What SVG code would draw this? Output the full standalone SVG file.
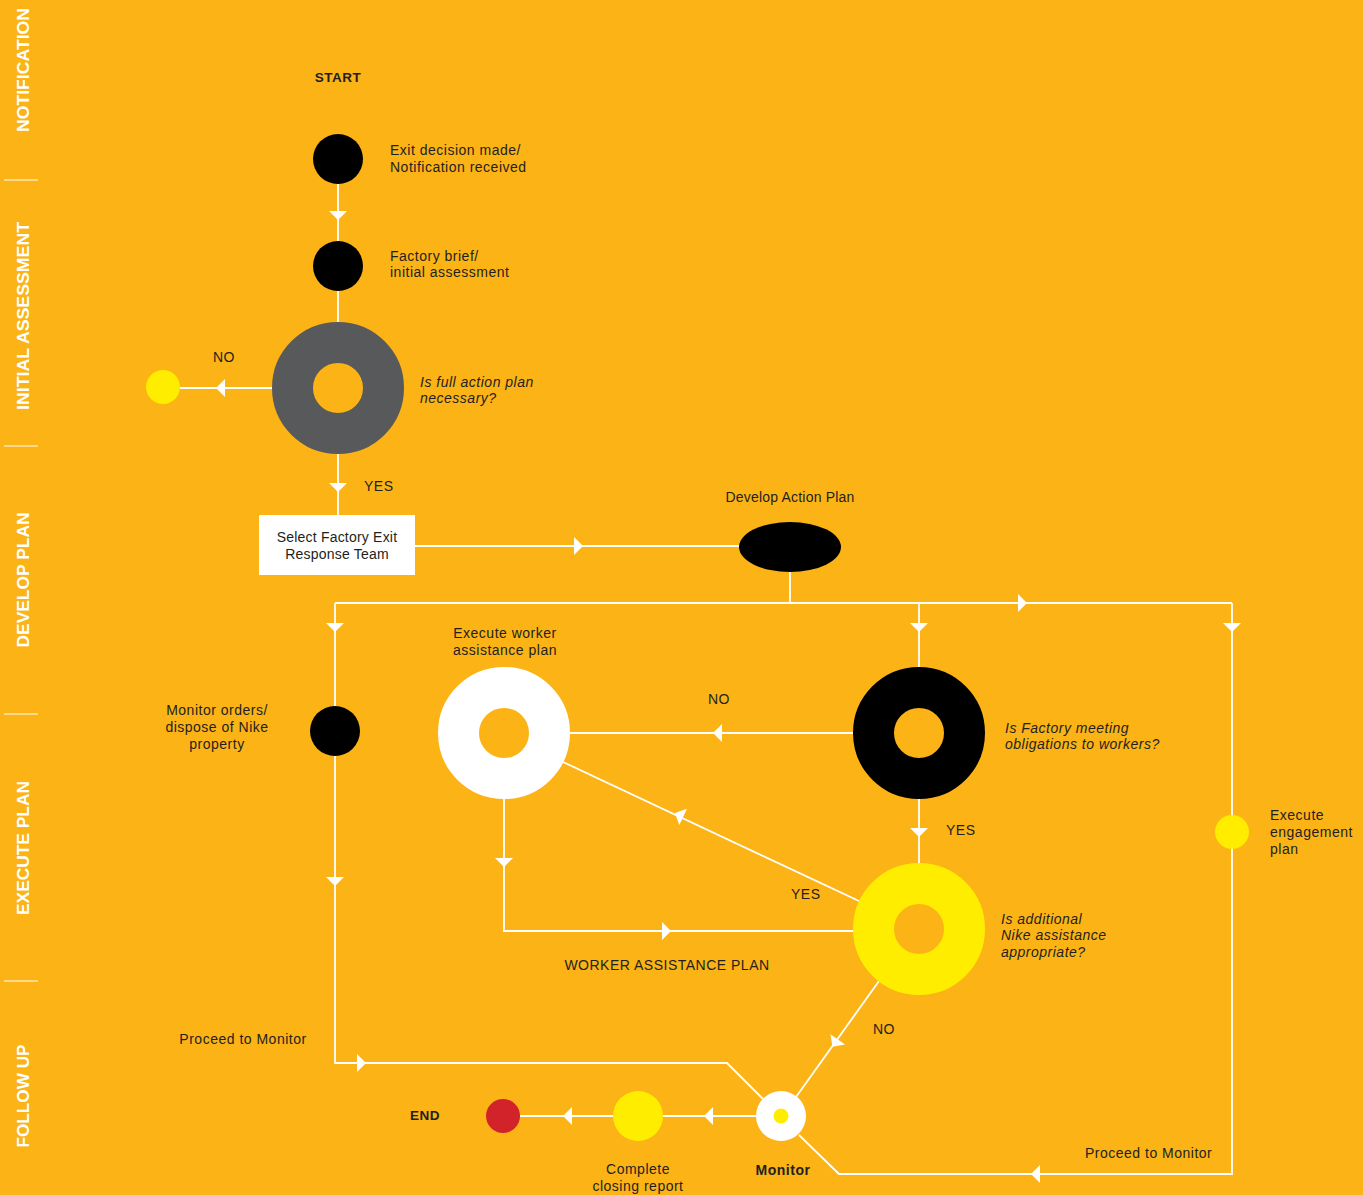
<svg xmlns="http://www.w3.org/2000/svg" xmlns:xlink="http://www.w3.org/1999/xlink" width="1363" height="1195" viewBox="0 0 1363 1195">
<style>
.t{font-family:"Liberation Sans",Arial,sans-serif;font-size:14px;letter-spacing:0.5px;fill:#231F20}
.i{font-style:italic}
.b{font-weight:bold;font-size:13.5px}
.m{text-anchor:middle}
.n{letter-spacing:0.2px}
.side{font-family:"Liberation Sans",Arial,sans-serif;font-size:16px;font-weight:bold;fill:#FFFFFF;text-anchor:middle}
.ln{fill:none;stroke:#FFFFFF;stroke-width:1.8}
.ah{fill:#FFFFFF}
.donut{fill:none;stroke-width:41}
</style>
<defs>
<path id="ah" d="M0,0 L-9,-9 L-9,9 Z"/>
</defs>
<rect x="0" y="0" width="1363" height="1195" fill="#FCB316"/>

<g id="phases">
<g stroke="#FFFFFF" stroke-width="1.2">
<line x1="4" y1="180" x2="38" y2="180"/>
<line x1="4" y1="446" x2="38" y2="446"/>
<line x1="4" y1="714" x2="38" y2="714"/>
<line x1="4" y1="981" x2="38" y2="981"/>
</g>
<text class="side" transform="translate(28.5,70) rotate(-90)" textLength="124" lengthAdjust="spacingAndGlyphs">NOTIFICATION</text>
<text class="side" transform="translate(28.5,316) rotate(-90)" textLength="188" lengthAdjust="spacingAndGlyphs">INITIAL ASSESSMENT</text>
<text class="side" transform="translate(28.5,580) rotate(-90)" textLength="135" lengthAdjust="spacingAndGlyphs">DEVELOP PLAN</text>
<text class="side" transform="translate(28.5,848) rotate(-90)" textLength="134" lengthAdjust="spacingAndGlyphs">EXECUTE PLAN</text>
<text class="side" transform="translate(28.5,1096) rotate(-90)" textLength="103" lengthAdjust="spacingAndGlyphs">FOLLOW UP</text>
</g>

<g id="connectors">
<path class="ln" d="M338,184 V241"/>
<path class="ln" d="M338,291 V322"/>
<path class="ln" d="M272,388 H180"/>
<path class="ln" d="M338,454 V515"/>
<path class="ln" d="M415,546 H739"/>
<path class="ln" d="M790,572 V603"/>
<path class="ln" d="M335,603 H1232"/>
<path class="ln" d="M335,603 V1063 H727 L763,1099"/>
<path class="ln" d="M919,603 V667"/>
<path class="ln" d="M1232,603 V1174 H839 L799,1135"/>
<path class="ln" d="M853,733 H569"/>
<path class="ln" d="M504,799 V931 H853"/>
<path class="ln" d="M919,799 V863"/>
<path class="ln" d="M859,901 L563,762"/>
<path class="ln" d="M879,981 L796,1097"/>
<path class="ln" d="M756,1116 H663"/>
<path class="ln" d="M613,1116 H520"/>
<g class="ah">
<use xlink:href="#ah" transform="translate(338,220) rotate(90)"/>
<use xlink:href="#ah" transform="translate(216,388) rotate(180)"/>
<use xlink:href="#ah" transform="translate(338,492) rotate(90)"/>
<use xlink:href="#ah" transform="translate(583,546)"/>
<use xlink:href="#ah" transform="translate(1027,603)"/>
<use xlink:href="#ah" transform="translate(335,632) rotate(90)"/>
<use xlink:href="#ah" transform="translate(919,632) rotate(90)"/>
<use xlink:href="#ah" transform="translate(1232,632) rotate(90)"/>
<use xlink:href="#ah" transform="translate(335,886) rotate(90)"/>
<use xlink:href="#ah" transform="translate(366,1063)"/>
<use xlink:href="#ah" transform="translate(1031,1174) rotate(180)"/>
<use xlink:href="#ah" transform="translate(713,733) rotate(180)"/>
<use xlink:href="#ah" transform="translate(504,867) rotate(90)"/>
<use xlink:href="#ah" transform="translate(671,931)"/>
<use xlink:href="#ah" transform="translate(919,837) rotate(90)"/>
<use xlink:href="#ah" transform="translate(675,813) rotate(205.2)"/>
<use xlink:href="#ah" transform="translate(832.5,1046.7) rotate(125.6)"/>
<use xlink:href="#ah" transform="translate(704,1116) rotate(180)"/>
<use xlink:href="#ah" transform="translate(563,1116) rotate(180)"/>
</g>
</g>

<g id="start">
<text class="t b m" x="338" y="82">START</text>
</g>
<g id="exit-decision">
<circle cx="338" cy="159" r="25" fill="#000000"/>
<text class="t" x="390" y="155">Exit decision made/</text>
<text class="t" x="390" y="172">Notification received</text>
</g>
<g id="factory-brief">
<circle cx="338" cy="266" r="25" fill="#000000"/>
<text class="t" x="390" y="261">Factory brief/</text>
<text class="t" x="390" y="277">initial assessment</text>
</g>
<g id="full-plan-decision">
<circle class="donut" cx="338" cy="388" r="45.5" stroke="#58595B"/>
<text class="t i" x="420" y="387">Is full action plan</text>
<text class="t i" x="420" y="403">necessary?</text>
<text class="t" x="213" y="362">NO</text>
<text class="t" x="364" y="491">YES</text>
</g>
<g id="no-plan-end">
<circle cx="163" cy="387" r="17" fill="#FFED00"/>
</g>
<g id="response-team">
<rect x="259" y="515" width="156" height="60" fill="#FFFFFF"/>
<text class="t m n" x="337" y="542">Select Factory Exit</text>
<text class="t m n" x="337" y="559">Response Team</text>
</g>
<g id="develop-action-plan">
<ellipse cx="790" cy="547" rx="51" ry="25" fill="#000000"/>
<text class="t m n" x="790" y="502">Develop Action Plan</text>
</g>
<g id="monitor-orders">
<circle cx="335" cy="731" r="25" fill="#000000"/>
<text class="t m" x="217" y="715">Monitor orders/</text>
<text class="t m" x="217" y="732">dispose of Nike</text>
<text class="t m" x="217" y="749">property</text>
</g>
<g id="worker-assistance">
<circle class="donut" cx="504" cy="733" r="45.5" stroke="#FFFFFF"/>
<text class="t m" x="505" y="638">Execute worker</text>
<text class="t m" x="505" y="655">assistance plan</text>
</g>
<g id="factory-obligations">
<circle class="donut" cx="919" cy="733" r="45.5" stroke="#000000"/>
<text class="t i" x="1005" y="733">Is Factory meeting</text>
<text class="t i" x="1005" y="749">obligations to workers?</text>
<text class="t m" x="719" y="704">NO</text>
<text class="t" x="946" y="835">YES</text>
</g>
<g id="additional-assistance">
<circle class="donut" cx="919" cy="929" r="45.5" stroke="#FFED00"/>
<text class="t i" x="1001" y="924">Is additional</text>
<text class="t i" x="1001" y="940">Nike assistance</text>
<text class="t i" x="1001" y="957">appropriate?</text>
<text class="t" x="791" y="899">YES</text>
<text class="t" x="873" y="1034">NO</text>
<text class="t m" x="667" y="970">WORKER ASSISTANCE PLAN</text>
</g>
<g id="engagement-plan">
<circle cx="1232" cy="832" r="17" fill="#FFED00"/>
<text class="t" x="1270" y="820">Execute</text>
<text class="t" x="1270" y="837">engagement</text>
<text class="t" x="1270" y="854">plan</text>
</g>
<g id="proceed-labels">
<text class="t m" x="243" y="1044">Proceed to Monitor</text>
<text class="t" x="1085" y="1158">Proceed to Monitor</text>
</g>
<g id="monitor">
<circle cx="781" cy="1116" r="25" fill="#FFFFFF"/>
<circle cx="781" cy="1116" r="7.5" fill="#FFED00"/>
<text class="t b m" x="783" y="1175" style="font-size:14px">Monitor</text>
</g>
<g id="closing-report">
<circle cx="638" cy="1116" r="25" fill="#FFED00"/>
<text class="t m" x="638" y="1174">Complete</text>
<text class="t m" x="638" y="1191">closing report</text>
</g>
<g id="end">
<circle cx="503" cy="1116" r="17" fill="#D2232A"/>
<text class="t b" x="410" y="1120">END</text>
</g>
</svg>
